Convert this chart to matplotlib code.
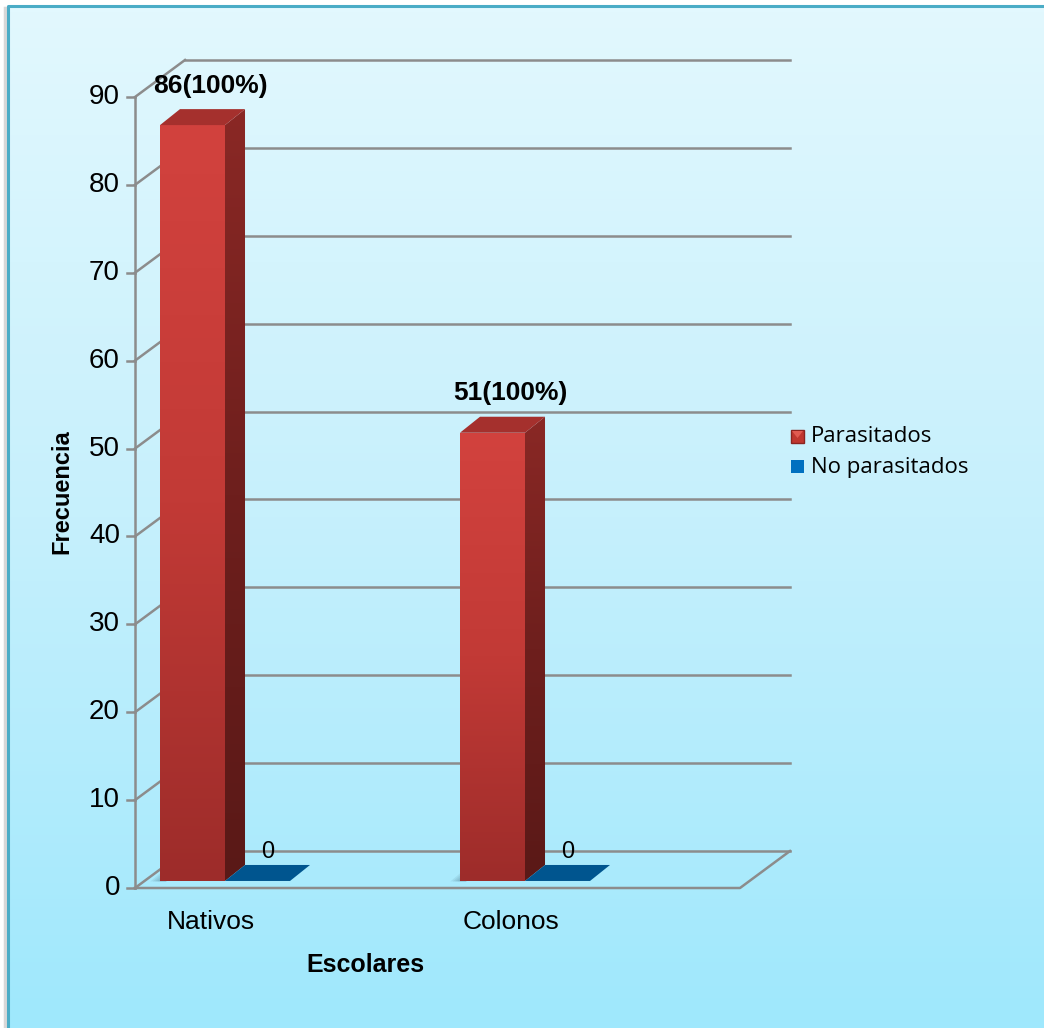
import numpy as np
import matplotlib.pyplot as plt
from matplotlib.patches import Polygon, Rectangle
from matplotlib.colors import LinearSegmentedColormap

# datos
categorias = ['Nativos', 'Colonos']
parasitados = [86, 51]
no_parasitados = [0, 0]
yticks = list(range(0, 100, 10))
series = ['Parasitados', 'No parasitados']

W, H = 1044, 1028
fig = plt.figure(figsize=(W / 100, H / 100), dpi=100)

# fondo degradado con borde
bg = fig.add_axes([0, 0, 1, 1], zorder=0)
bg.set_xlim(0, W)
bg.set_ylim(H, 0)
bg.axis('off')
grad = np.linspace(0, 1, 256).reshape(-1, 1)
cmap_bg = LinearSegmentedColormap.from_list('bg', ['#e2f8fe', '#c6f0fc', '#9fe8fd'])
bg.imshow(grad, extent=[8, W, H, 6], aspect='auto', cmap=cmap_bg, interpolation='bilinear')
bg.plot([5, 5], [8, H], color='#d8d8d8', lw=2.5)
bg.plot([8, 8, W], [H, 6, 6], color='#4bacc6', lw=2.2)
bg.set_xlim(0, W)
bg.set_ylim(H, 0)

ax = fig.add_axes([0, 0, 1, 1], zorder=1)
ax.patch.set_alpha(0)
ax.axis('off')

# caja 3D
X0, X1 = -0.3, 1.7167       # borde frontal del suelo
DX, DY = 0.1667, 4.21        # profundidad de la caja
BASE = 0.8                   # nivel donde apoyan las barras
BW = 0.2167                  # ancho de barra
BDX, BDY = 0.0667, 1.82      # profundidad de barra
gris = '#8c8c8c'

for v in yticks:
    ax.plot([X0, X0 + DX], [v, v + DY], color=gris, lw=1.8, zorder=1)
    ax.plot([X0 + DX, X1 + DX], [v + DY, v + DY], color=gris, lw=1.8, zorder=1)
    ax.plot([X0 - 0.027, X0], [v, v], color=gris, lw=1.8, zorder=1)
    ax.text(X0 - 0.05, v, str(v), ha='right', va='center', fontsize=20,
            family='Liberation Sans')
ax.plot([X0, X0], [0, yticks[-1]], color=gris, lw=1.8, zorder=1)
ax.plot([X0, X1, X1 + DX], [0, 0, DY], color=gris, lw=1.8, zorder=1)


def cara(pts, colores, z):
    poly = Polygon(pts, closed=True, facecolor='none', edgecolor='none', zorder=z)
    ax.add_patch(poly)
    xs = [p[0] for p in pts]
    ys = [p[1] for p in pts]
    cm = LinearSegmentedColormap.from_list('c', colores)
    im = ax.imshow(grad, extent=[min(xs), max(xs), min(ys), max(ys)],
                   aspect='auto', cmap=cm, interpolation='bilinear', zorder=z)
    im.set_clip_path(poly)


def barra(x, h, frente, lado, arriba):
    y0, y1 = BASE, BASE + h
    if h > 0:
        cara([(x, y0), (x + BW, y0), (x + BW, y1), (x, y1)], frente, 3)
        cara([(x + BW, y0), (x + BW + BDX, y0 + BDY), (x + BW + BDX, y1 + BDY),
              (x + BW, y1)], lado, 3)
    ax.add_patch(Polygon([(x, y1), (x + BW, y1), (x + BW + BDX, y1 + BDY),
                          (x + BDX, y1 + BDY)], closed=True, facecolor=arriba,
                         edgecolor='none', zorder=3))


for i, (p, n) in enumerate(zip(parasitados, no_parasitados)):
    # sombra suave al pie de la barra roja
    for k in range(5):
        ax.add_patch(Polygon([(i - BW - 0.008 * k, BASE - 0.05),
                              (i - BW + 0.02, BASE - 0.05),
                              (i - BW + 0.02 + BDX * 0.6, BASE + BDY * 0.6),
                              (i - BW + BDX * 0.6 - 0.008 * k, BASE + BDY * 0.6)],
                             closed=True, facecolor='#0d2a3a', alpha=0.07,
                             edgecolor='none', zorder=2))
    barra(i - BW, p, ['#d2423e', '#c23a36', '#9d2c2a'],
          ['#8a2825', '#6e1f1d', '#5a1917'], '#a5302d')
    barra(i, n, ['#0070c0', '#005a96'], ['#004a7c', '#003a60'], '#00558f')
    tot = p + n
    ax.text(i - 0.05, p + BASE + 4.5, f'{p}({p / tot * 100:.0f}%)', ha='center',
            va='center', fontsize=19, fontweight='bold', family='Liberation Sans',
            zorder=5)
    ax.text(i + 0.143, n + 4.1, f'{n}', ha='center', va='center', fontsize=17,
            family='Liberation Sans', zorder=5)
    ax.text(i - 0.047, -3.9, categorias[i], ha='center', va='center', fontsize=19,
            family='Liberation Sans')

ax.set_xlim(-0.75, -0.75 + W / 300)
ax.set_ylim(-(H - 888) / 8.789, 888 / 8.789)

# titulos de ejes
fig.text(365 / W, 1 - 965 / H, 'Escolares', ha='center', va='center',
         fontsize=18, fontweight='bold', family='Liberation Sans')
fig.text(62 / W, 1 - 492 / H, 'Frecuencia', ha='center', va='center',
         rotation=90, fontsize=17, fontweight='bold', family='Liberation Sans')

# leyenda
ley = fig.add_axes([0, 0, 1, 1], zorder=2)
ley.set_xlim(0, W)
ley.set_ylim(H, 0)
ley.axis('off')
ley.add_patch(Rectangle((791, 430), 13, 13, facecolor='#c0372f', edgecolor='#8a2420', lw=1))
ley.add_patch(Polygon([(792, 431), (803, 431), (797.5, 438)], facecolor='#e05a50',
                      edgecolor='none'))
ley.add_patch(Rectangle((791, 460), 13, 13, facecolor='#0070c0', edgecolor='none'))
ley.text(811, 437, series[0], va='center', ha='left', fontsize=16, family='Open Sans')
ley.text(811, 467, series[1], va='center', ha='left', fontsize=16, family='Open Sans')

fig.savefig('out.png', dpi=100)
